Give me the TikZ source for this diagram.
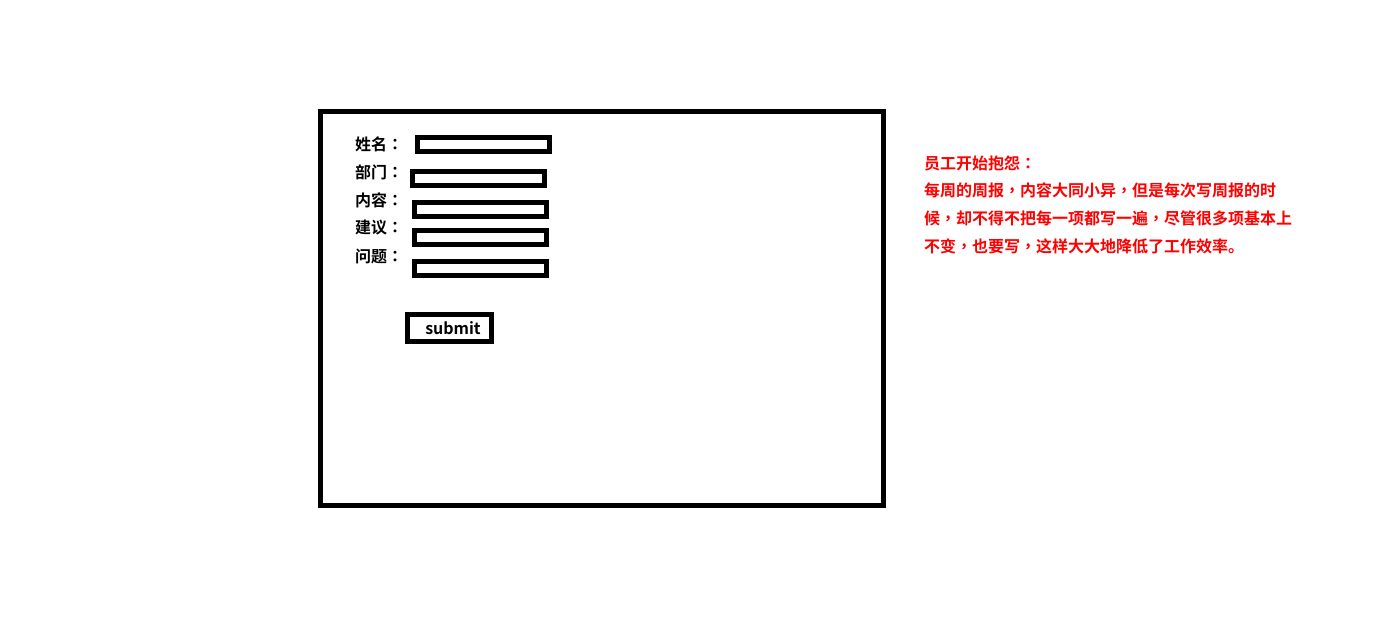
\documentclass[tikz,border=0pt]{standalone}
\usepackage{fontspec}
\newfontfamily\cjk{Noto Sans CJK SC}[BoldFont={* Bold}]
\newfontfamily\cjkp{Noto Sans CJK TC}[BoldFont={* Bold}]
\newcommand\cco{{\cjkp ：}}
\newcommand\ccm{{\cjkp ，}}
\begin{document}
\begin{tikzpicture}[x=1pt,y=-1pt,
  frame/.style={draw=black,line width=5pt},
  field/.style={draw=black,line width=5pt},
  lbl/.style={anchor=west,inner sep=0pt,font=\cjk\bfseries\fontsize{16}{16}\selectfont},
  note/.style={anchor=west,inner sep=0pt,text=red,font=\cjk\bfseries\fontsize{16}{16}\selectfont}]
\useasboundingbox (0,0) rectangle (1375,637);
\draw[frame] (320.5,111.5) rectangle (883.5,505.5);
\node[lbl] (l1) at (355,144) {姓名\cco};
\node[lbl] (l2) at (355,172) {部门\cco};
\node[lbl] (l3) at (355,200) {内容\cco};
\node[lbl] (l4) at (355,228) {建议\cco};
\node[lbl] (l5) at (355,256) {问题\cco};
\draw[field] (417.5,137.5) rectangle (549.5,151.5);
\draw[field] (412.5,171.5) rectangle (544.5,185.5);
\draw[field] (414.5,202.5) rectangle (546.5,216.5);
\draw[field] (414.5,230.5) rectangle (546.5,244.5);
\draw[field] (414.5,261.5) rectangle (546.5,275.5);
\draw[field] (407.5,314.5) rectangle (491.5,341.5);
\node[inner sep=0pt,font=\cjk\bfseries\fontsize{16}{16}\selectfont] (sub) at (453,328) {submit};
\node[note] (n1) at (924,163) {员工开始抱怨\cco};
\node[note] (n2) at (924,190) {每周的周报\ccm 内容大同小异\ccm 但是每次写周报的时};
\node[note] (n3) at (924,218) {候\ccm 却不得不把每一项都写一遍\ccm 尽管很多项基本上};
\node[note] (n4) at (924,246) {不变\ccm 也要写\ccm 这样大大地降低了工作效率。};
\end{tikzpicture}
\end{document}
